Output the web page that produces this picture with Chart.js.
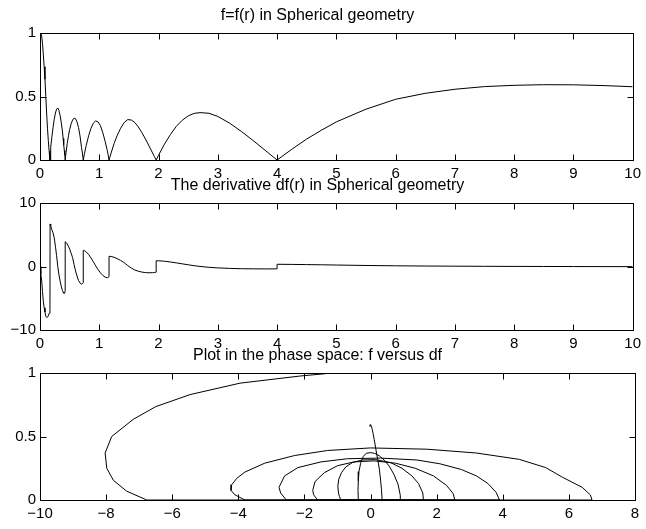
<!DOCTYPE html>
<html>
<head>
<meta charset="utf-8">
<script src="https://cdn.jsdelivr.net/npm/chart.js@4.4.1/dist/chart.umd.min.js"></script>
<style>
html,body{margin:0;padding:0;background:#fff;width:646px;height:529px;overflow:hidden;position:relative;}
canvas{position:absolute;left:0;}
</style>
</head>
<body>
<canvas id="c1" width="646" height="190" style="top:0px;width:646px;height:190px"></canvas>
<canvas id="c2" width="646" height="190" style="top:170px;width:646px;height:190px"></canvas>
<canvas id="c3" width="646" height="190" style="top:340px;width:646px;height:190px"></canvas>
<script>
// ---- data ----
const r = [
  0, 0.014, 0.028, 0.042, 0.056, 0.07, 0.084, 0.098, 0.112, 0.126, 0.14, 0.154, 0.168,
  0.17, 0.176, 0.185, 0.2, 0.22, 0.24, 0.26, 0.28, 0.3, 0.32, 0.34, 0.36, 0.38, 0.39, 0.4, 0.41, 0.418, 0.425,
  0.425, 0.44, 0.46, 0.48, 0.5, 0.525, 0.55, 0.575, 0.6, 0.625, 0.65, 0.675, 0.7, 0.715, 0.73,
  0.73, 0.75, 0.78, 0.82, 0.86, 0.9, 0.94, 0.98, 1.02, 1.06, 1.1, 1.135, 1.15, 1.165,
  1.165, 1.2, 1.25, 1.3, 1.36, 1.42, 1.48, 1.54, 1.6, 1.66, 1.72, 1.78, 1.84, 1.9, 1.93, 1.96,
  1.96, 2.0, 2.1, 2.2, 2.3, 2.4, 2.5, 2.6, 2.7, 2.85, 3.0, 3.2, 3.4, 3.6, 3.8, 4.0,
  4.0, 4.25, 4.5, 4.75, 5.0, 5.5, 6.0, 6.5, 7.0, 7.5, 8.0, 8.5, 9.0, 9.5, 10
];
const f = [
  1, 0.998, 0.976, 0.92, 0.83, 0.735, 0.635, 0.5, 0.37, 0.25, 0.155, 0.07, 0,
  0, 0.04, 0.1, 0.18, 0.255, 0.32, 0.37, 0.4, 0.41, 0.39, 0.35, 0.29, 0.22, 0.17, 0.12, 0.075, 0.04, 0,
  0, 0.06, 0.13, 0.19, 0.24, 0.285, 0.315, 0.33, 0.325, 0.3, 0.255, 0.19, 0.1, 0.055, 0,
  0, 0.05, 0.115, 0.19, 0.25, 0.29, 0.308, 0.3, 0.27, 0.215, 0.145, 0.075, 0.04, 0,
  0, 0.055, 0.13, 0.19, 0.25, 0.295, 0.318, 0.315, 0.295, 0.26, 0.215, 0.165, 0.11, 0.055, 0.027, 0,
  0, 0.037, 0.125, 0.2, 0.265, 0.313, 0.347, 0.367, 0.373, 0.368, 0.343, 0.29, 0.224, 0.152, 0.076, 0,
  0, 0.085, 0.165, 0.235, 0.3, 0.4, 0.478, 0.525, 0.557, 0.578, 0.588, 0.593, 0.592, 0.586, 0.577
];
const df = [
  0, -1.23, -2.14, -3.95, -5.46, -6.5, -7.18, -7.83, -8.03, -7.98, -7.78, -7.38, -6.77,
  6.7, 6.65, 6.4, 5.8, 5.3, 4.5, 3.2, 1.7, 0, -1.3, -2.3, -3.2, -3.8, -4.05, -4.2, -4.22, -4.1, -3.8,
  3.9, 3.8, 3.55, 3.2, 2.75, 2.1, 1.4, 0.3, -0.7, -1.5, -2.2, -2.6, -2.77, -2.72, -2.55,
  2.55, 2.5, 2.3, 1.9, 1.35, 0.75, 0.1, -0.5, -1.0, -1.4, -1.68, -1.75, -1.72, -1.6,
  1.6, 1.58, 1.45, 1.25, 0.95, 0.6, 0.15, -0.25, -0.55, -0.75, -0.88, -0.96, -0.99, -0.97, -0.94, -0.9,
  0.9, 0.9, 0.83, 0.71, 0.57, 0.42, 0.27, 0.13, 0.01, -0.13, -0.22, -0.3, -0.35, -0.37, -0.38, -0.37,
  0.35, 0.33, 0.3, 0.27, 0.23, 0.16, 0.11, 0.075, 0.05, 0.03, 0.014, 0.003, -0.007, -0.015, -0.02
];

const titles = [
  'f=f(r) in Spherical geometry',
  'The derivative df(r) in Spherical geometry',
  'Plot in the phase space: f versus df'
];
const xTicksR = [0, 1, 2, 3, 4, 5, 6, 7, 8, 9, 10];
const yTicksF = [0, 0.5, 1];
const yTicksDf = [-10, 0, 10];
const xTicksPhase = [-10, -8, -6, -4, -2, 0, 2, 4, 6, 8];

// ---- rendering ----
const FONT = "'Liberation Sans', Arial, Helvetica, sans-serif";
const fmt = v => String(v).replace('-', '\u2212');

const boxTicks = {
  id: 'boxTicks',
  afterDatasetsDraw(chart) {
    const {ctx, chartArea: a, scales} = chart;
    const L = Math.round(a.left) + 0.5, R = Math.round(a.right) + 0.5;
    const T = Math.round(a.top) + 0.5, B = Math.round(a.bottom) + 0.5;
    const len = 6;
    ctx.save();
    ctx.strokeStyle = '#000';
    ctx.lineWidth = 1;
    ctx.beginPath();
    ctx.rect(L, T, R - L, B - T);
    scales.x.ticks.forEach(t => {
      const px = Math.round(scales.x.getPixelForValue(t.value)) + 0.5;
      ctx.moveTo(px, B); ctx.lineTo(px, B - len);
      ctx.moveTo(px, T); ctx.lineTo(px, T + len);
    });
    scales.y.ticks.forEach(t => {
      const py = Math.round(scales.y.getPixelForValue(t.value)) + 0.5;
      ctx.moveTo(L, py); ctx.lineTo(L + len, py);
      ctx.moveTo(R, py); ctx.lineTo(R - len, py);
    });
    ctx.stroke();
    ctx.restore();
  }
};

function makeChart(id, type, title, points, xT, yT) {
  const tickFont = {family: FONT, size: 15};
  return new Chart(document.getElementById(id), {
    type: type,
    data: {
      datasets: [{
        data: points,
        borderColor: '#000',
        backgroundColor: '#000',
        borderWidth: 1,
        pointRadius: 0,
        tension: 0,
        fill: false,
        showLine: true
      }]
    },
    options: {
      responsive: false,
      animation: false,
      devicePixelRatio: 1,
      layout: {padding: {left: 0, right: 11, top: 0, bottom: 0}},
      plugins: {
        legend: {display: false},
        tooltip: {enabled: false},
        title: {
          display: true,
          text: title,
          color: '#000',
          font: {family: FONT, size: 16, weight: 'normal', lineHeight: 1.2},
          padding: {top: 5.5, bottom: 8.3}
        }
      },
      scales: {
        x: {
          type: 'linear',
          min: xT[0], max: xT[xT.length - 1],
          afterBuildTicks: s => { s.ticks = xT.map(v => ({value: v})); },
          afterFit: s => { s.height = 30; },
          grid: {display: false, drawTicks: false},
          border: {display: false},
          ticks: {color: '#000', font: tickFont, padding: 5, autoSkip: false, maxRotation: 0, callback: v => fmt(v)}
        },
        y: {
          type: 'linear',
          min: yT[0], max: yT[yT.length - 1],
          afterBuildTicks: s => { s.ticks = yT.map(v => ({value: v})); },
          afterFit: s => { s.width = 40; },
          grid: {display: false, drawTicks: false},
          border: {display: false},
          ticks: {color: '#000', font: tickFont, padding: 4, autoSkip: false, callback: v => fmt(v)}
        }
      }
    },
    plugins: [boxTicks]
  });
}

const ptsF = r.map((v, i) => ({x: v, y: f[i]}));
const ptsDf = r.map((v, i) => ({x: v, y: df[i]}));
const ptsPhase = df.map((v, i) => ({x: v, y: f[i]}));

makeChart('c1', 'line', titles[0], ptsF, xTicksR, yTicksF);
makeChart('c2', 'line', titles[1], ptsDf, xTicksR, yTicksDf);
makeChart('c3', 'scatter', titles[2], ptsPhase, xTicksPhase, yTicksF);
</script>
</body>
</html>
